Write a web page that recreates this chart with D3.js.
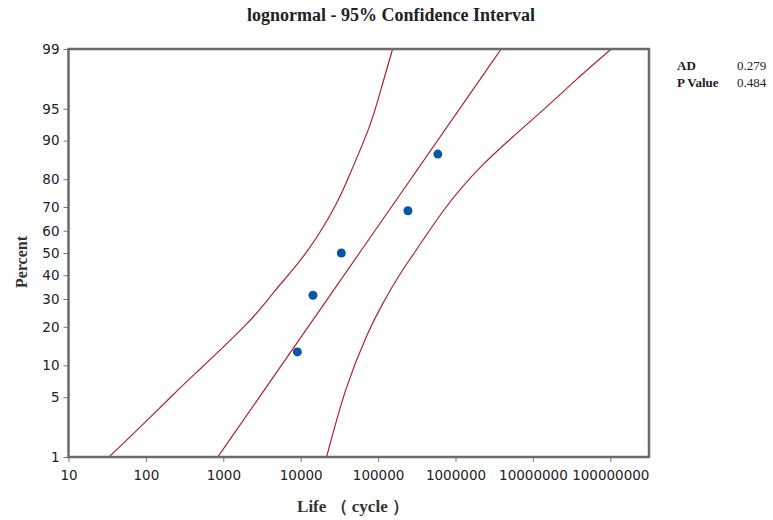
<!DOCTYPE html>
<html>
<head>
<meta charset="utf-8">
<script src="https://cdn.jsdelivr.net/npm/d3@7"></script>
<style>
  body { margin: 0; background: #fff; }
  .tick text { font-family: "DejaVu Sans", sans-serif; font-size: 13.5px; fill: #222; }
  .tick line { stroke: #777; }
  .domain { display: none; }
</style>
</head>
<body>
<div id="chart"></div>
<script>
// values
const lifeTicks = [10, 100, 1000, 10000, 100000, 1000000, 10000000, 100000000];
const percentTicks = [1, 5, 10, 20, 30, 40, 50, 60, 70, 80, 90, 95, 99];

const sampleLife = [9060, 14400, 33500, 243000, 591000];
const samplePercent = [12.96, 31.48, 50, 68.52, 87.04];

// fitted lognormal line (straight on probability paper)
const fitLife = [849, 57400, 3890000];
const fitPercent = [1, 50, 99];

// 95% confidence bands
const lowerBandLife = [33.3, 70, 198, 429, 1950, 4755, 11940, 28300, 45500, 77600, 114000, 154000];
const lowerBandPercent = [1, 2.0, 4.8, 8.4, 20.6, 33.7, 50.5, 70.8, 82.8, 92.6, 97.3, 99];
const upperBandLife = [21600, 38100, 71100, 114300, 189000, 305000, 679000, 2230000, 11100000, 36400000, 103000000];
const upperBandPercent = [1, 5.9, 17.2, 28.1, 40.1, 50.9, 68.0, 84.2, 94.1, 97.6, 99];

const stats = [["AD", "0.279"], ["P Value", "0.484"]];

const width = 773, height = 520;
const plot = { left: 68.5, right: 649, top: 49, bottom: 457 };

// inverse normal CDF (Acklam) for the probability axis
function probit(p) {
  const a = [-39.69683028665376, 220.9460984245205, -275.9285104469687, 138.3577518672690, -30.66479806614716, 2.506628277459239];
  const b = [-54.47609879822406, 161.5858368580409, -155.6989798598866, 66.80131188771972, -13.28068155288572];
  const c = [-0.007784894002430293, -0.3223964580411365, -2.400758277161838, -2.549732539343734, 4.374664141464968, 2.938163982698783];
  const d = [0.007784695709041462, 0.3224671290700398, 2.445134137142996, 3.754408661907416];
  const pl = 0.02425;
  let q, r;
  if (p < pl) {
    q = Math.sqrt(-2 * Math.log(p));
    return (((((c[0]*q+c[1])*q+c[2])*q+c[3])*q+c[4])*q+c[5]) / ((((d[0]*q+d[1])*q+d[2])*q+d[3])*q+1);
  } else if (p <= 1 - pl) {
    q = p - 0.5; r = q * q;
    return (((((a[0]*r+a[1])*r+a[2])*r+a[3])*r+a[4])*r+a[5])*q / (((((b[0]*r+b[1])*r+b[2])*r+b[3])*r+b[4])*r+1);
  }
  q = Math.sqrt(-2 * Math.log(1 - p));
  return -(((((c[0]*q+c[1])*q+c[2])*q+c[3])*q+c[4])*q+c[5]) / ((((d[0]*q+d[1])*q+d[2])*q+d[3])*q+1);
}

const svg = d3.select("#chart")
  .append("svg")
  .attr("width", width)
  .attr("height", height);

const x = d3.scaleLog()
  .domain([10, Math.pow(10, 8.5)])
  .range([plot.left, plot.right]);

const yz = d3.scaleLinear()
  .domain([probit(0.01), probit(0.99)])
  .range([plot.bottom, plot.top]);
const y = p => yz(probit(p / 100));

// Title
svg.append("text")
  .attr("x", 391)
  .attr("y", 21)
  .attr("text-anchor", "middle")
  .attr("font-family", "Liberation Serif, serif")
  .attr("font-weight", "bold")
  .attr("font-size", "18px")
  .attr("fill", "#222")
  .text("lognormal - 95% Confidence Interval");

// X axis
svg.append("g")
  .attr("transform", `translate(0,${plot.bottom})`)
  .call(d3.axisBottom(x)
    .tickValues(lifeTicks)
    .tickFormat(d3.format("d"))
    .tickSize(5)
    .tickPadding(8));

// Y axis (probability scale)
svg.append("g")
  .attr("transform", `translate(${plot.left},0)`)
  .call(d3.axisLeft(yz)
    .tickValues(percentTicks.map(p => probit(p / 100)))
    .tickFormat((d, i) => percentTicks[i])
    .tickSize(5)
    .tickPadding(4));

// Lines
const line = d3.line()
  .x(d => x(d[0]))
  .y(d => y(d[1]))
  .curve(d3.curveNatural);

const series = [
  d3.zip(lowerBandLife, lowerBandPercent),
  d3.zip(fitLife, fitPercent),
  d3.zip(upperBandLife, upperBandPercent)
];

svg.selectAll("path.band")
  .data(series)
  .enter().append("path")
  .attr("class", "band")
  .attr("d", line)
  .attr("fill", "none")
  .attr("stroke", "#a9262c")
  .attr("stroke-width", 1.2);

// Points
svg.selectAll("circle")
  .data(d3.zip(sampleLife, samplePercent))
  .enter().append("circle")
  .attr("cx", d => x(d[0]))
  .attr("cy", d => y(d[1]))
  .attr("r", 4.5)
  .attr("fill", "#0a56a6");

// Frame
svg.append("rect")
  .attr("x", plot.left)
  .attr("y", plot.top)
  .attr("width", plot.right - plot.left)
  .attr("height", plot.bottom - plot.top)
  .attr("fill", "none")
  .attr("stroke", "#6a6a6a")
  .attr("stroke-width", 2.5);

// Axis labels
svg.append("text")
  .attr("x", 353)
  .attr("y", 512)
  .attr("text-anchor", "middle")
  .attr("font-family", "Liberation Serif, serif")
  .attr("font-weight", "bold")
  .attr("font-size", "17px")
  .attr("fill", "#333")
  .text("Life （ cycle ）");

svg.append("text")
  .attr("transform", "rotate(-90)")
  .attr("x", -262)
  .attr("y", 27)
  .attr("text-anchor", "middle")
  .attr("font-family", "Liberation Serif, serif")
  .attr("font-weight", "bold")
  .attr("font-size", "16px")
  .attr("fill", "#333")
  .text("Percent");

// Stats box
const statRow = svg.selectAll("g.stat")
  .data(stats)
  .enter().append("g")
  .attr("class", "stat")
  .attr("transform", (d, i) => `translate(677,${70 + i * 17})`);

statRow.append("text")
  .attr("font-family", "Liberation Serif, serif")
  .attr("font-weight", "bold")
  .attr("font-size", "13px")
  .attr("fill", "#222")
  .text(d => d[0]);

statRow.append("text")
  .attr("x", 60)
  .attr("font-family", "Liberation Serif, serif")
  .attr("font-size", "13px")
  .attr("fill", "#222")
  .text(d => d[1]);
</script>
</body>
</html>
